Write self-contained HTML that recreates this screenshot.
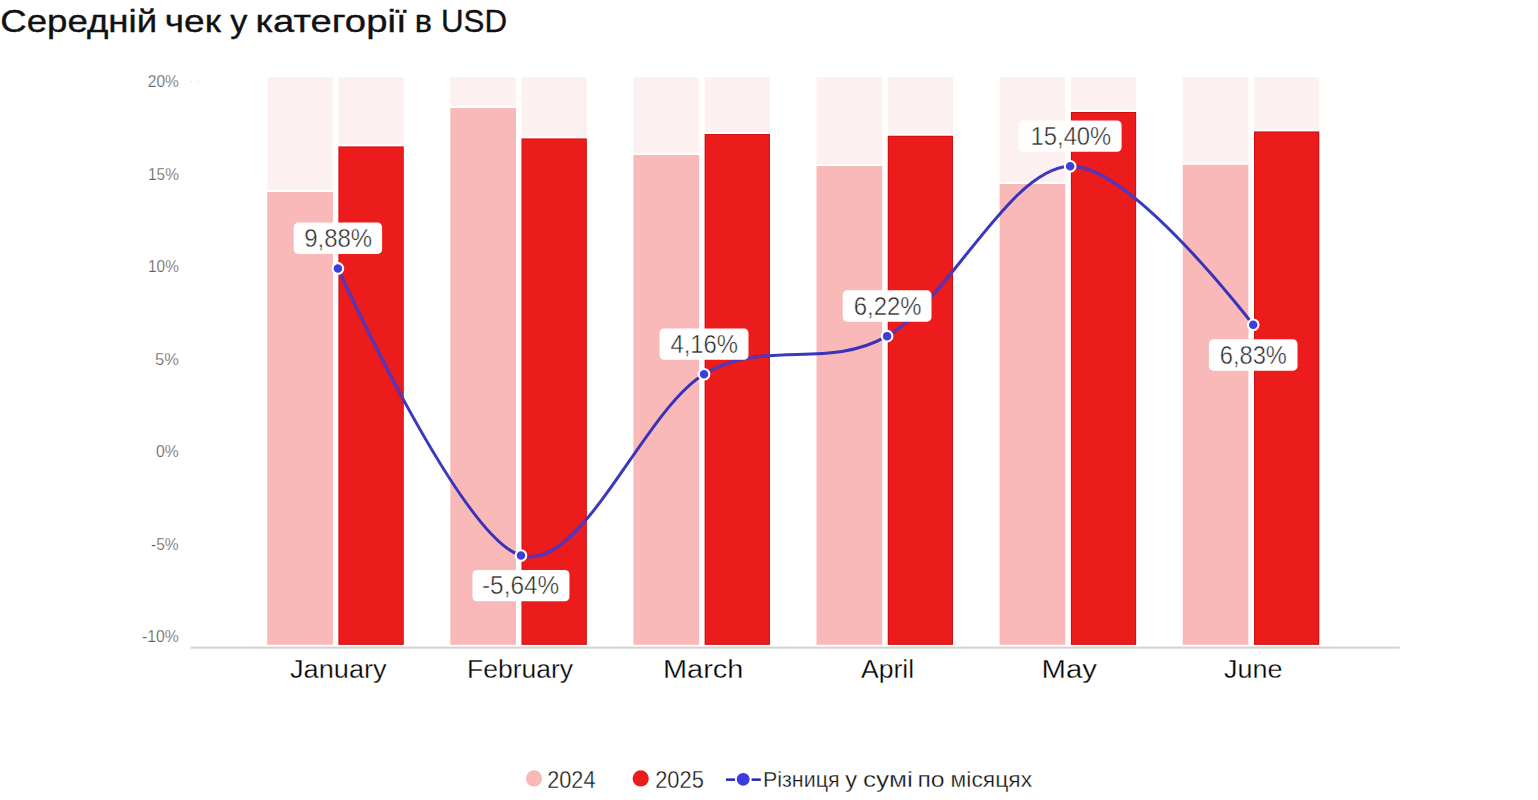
<!DOCTYPE html>
<html lang="uk"><head><meta charset="utf-8"><title>Середній чек у категорії в USD</title>
<style>html,body{margin:0;padding:0;background:#fff;}body{width:1538px;height:800px;overflow:hidden;}svg{display:block;}text{font-family:"Liberation Sans",Arial,sans-serif;}</style></head><body>
<svg width="1538" height="800" viewBox="0 0 1538 800">
<rect width="1538" height="800" fill="#fff"/>
<text x="0.20" y="32.30" font-size="32" fill="#111" textLength="156.99" lengthAdjust="spacingAndGlyphs" stroke="#111" stroke-width="0.35">Середній</text>
<text x="164.80" y="32.30" font-size="32" fill="#111" textLength="56.08" lengthAdjust="spacingAndGlyphs" stroke="#111" stroke-width="0.35">чек</text>
<text x="230.20" y="32.30" font-size="32" fill="#111" textLength="17.11" lengthAdjust="spacingAndGlyphs" stroke="#111" stroke-width="0.35">у</text>
<text x="255.40" y="32.30" font-size="32" fill="#111" textLength="151.16" lengthAdjust="spacingAndGlyphs" stroke="#111" stroke-width="0.35">категорії</text>
<text x="414.80" y="32.30" font-size="32" fill="#111" textLength="17.20" lengthAdjust="spacingAndGlyphs" stroke="#111" stroke-width="0.35">в</text>
<text x="441.00" y="32.30" font-size="32" fill="#111" textLength="66.14" lengthAdjust="spacingAndGlyphs" stroke="#111" stroke-width="0.35">USD</text>
<text x="147.80" y="87.40" font-size="16.6" fill="#5e5e5e" textLength="31.10" lengthAdjust="spacingAndGlyphs" stroke="#fff" stroke-width="0.25">20%</text>
<text x="148.00" y="179.90" font-size="16.6" fill="#5e5e5e" textLength="30.87" lengthAdjust="spacingAndGlyphs" stroke="#fff" stroke-width="0.25">15%</text>
<text x="148.00" y="272.40" font-size="16.6" fill="#5e5e5e" textLength="30.87" lengthAdjust="spacingAndGlyphs" stroke="#fff" stroke-width="0.25">10%</text>
<text x="155.00" y="364.90" font-size="16.6" fill="#5e5e5e" textLength="23.91" lengthAdjust="spacingAndGlyphs" stroke="#fff" stroke-width="0.25">5%</text>
<text x="156.00" y="457.40" font-size="16.6" fill="#5e5e5e" textLength="22.73" lengthAdjust="spacingAndGlyphs" stroke="#fff" stroke-width="0.25">0%</text>
<text x="151.00" y="549.90" font-size="16.6" fill="#5e5e5e" textLength="27.68" lengthAdjust="spacingAndGlyphs" stroke="#fff" stroke-width="0.25">-5%</text>
<text x="142.00" y="642.40" font-size="16.6" fill="#5e5e5e" textLength="36.91" lengthAdjust="spacingAndGlyphs" stroke="#fff" stroke-width="0.25">-10%</text>
<rect x="267.20" y="77.2" width="65.7" height="112.80" fill="#fdf0f0"/>
<rect x="338.50" y="77.2" width="65.2" height="67.30" fill="#fdf0f0"/>
<rect x="267.20" y="192" width="65.7" height="452.80" fill="#f9b9b9"/>
<rect x="338.50" y="146.5" width="65.2" height="498.30" fill="#ed1c1c"/>
<rect x="339.00" y="147.0" width="64.2" height="497.30" fill="none" stroke="#a00" stroke-opacity="0.45" stroke-width="1"/>
<rect x="450.30" y="77.2" width="65.7" height="28.80" fill="#fdf0f0"/>
<rect x="521.60" y="77.2" width="65.2" height="59.30" fill="#fdf0f0"/>
<rect x="450.30" y="108" width="65.7" height="536.80" fill="#f9b9b9"/>
<rect x="521.60" y="138.5" width="65.2" height="506.30" fill="#ed1c1c"/>
<rect x="522.10" y="139.0" width="64.2" height="505.30" fill="none" stroke="#a00" stroke-opacity="0.45" stroke-width="1"/>
<rect x="633.40" y="77.2" width="65.7" height="75.80" fill="#fdf0f0"/>
<rect x="704.70" y="77.2" width="65.2" height="54.80" fill="#fdf0f0"/>
<rect x="633.40" y="155" width="65.7" height="489.80" fill="#f9b9b9"/>
<rect x="704.70" y="134" width="65.2" height="510.80" fill="#ed1c1c"/>
<rect x="705.20" y="134.5" width="64.2" height="509.80" fill="none" stroke="#a00" stroke-opacity="0.45" stroke-width="1"/>
<rect x="816.50" y="77.2" width="65.7" height="86.80" fill="#fdf0f0"/>
<rect x="887.80" y="77.2" width="65.2" height="56.60" fill="#fdf0f0"/>
<rect x="816.50" y="166" width="65.7" height="478.80" fill="#f9b9b9"/>
<rect x="887.80" y="135.8" width="65.2" height="509.00" fill="#ed1c1c"/>
<rect x="888.30" y="136.3" width="64.2" height="508.00" fill="none" stroke="#a00" stroke-opacity="0.45" stroke-width="1"/>
<rect x="999.60" y="77.2" width="65.7" height="104.80" fill="#fdf0f0"/>
<rect x="1070.90" y="77.2" width="65.2" height="32.80" fill="#fdf0f0"/>
<rect x="999.60" y="184" width="65.7" height="460.80" fill="#f9b9b9"/>
<rect x="1070.90" y="112" width="65.2" height="532.80" fill="#ed1c1c"/>
<rect x="1071.40" y="112.5" width="64.2" height="531.80" fill="none" stroke="#a00" stroke-opacity="0.45" stroke-width="1"/>
<rect x="1182.70" y="77.2" width="65.7" height="85.60" fill="#fdf0f0"/>
<rect x="1254.00" y="77.2" width="65.2" height="52.30" fill="#fdf0f0"/>
<rect x="1182.70" y="164.8" width="65.7" height="480.00" fill="#f9b9b9"/>
<rect x="1254.00" y="131.5" width="65.2" height="513.30" fill="#ed1c1c"/>
<rect x="1254.50" y="132.0" width="64.2" height="512.30" fill="none" stroke="#a00" stroke-opacity="0.45" stroke-width="1"/>
<rect x="190.6" y="646.6" width="1209.2" height="2.1" fill="#d3d3d3"/>
<text x="290.00" y="677.80" font-size="25.4" fill="#000" textLength="96.63" lengthAdjust="spacingAndGlyphs" stroke="#fff" stroke-width="0.3">January</text>
<text x="467.00" y="677.80" font-size="25.4" fill="#000" textLength="105.97" lengthAdjust="spacingAndGlyphs" stroke="#fff" stroke-width="0.3">February</text>
<text x="663.00" y="677.80" font-size="25.4" fill="#000" textLength="80.38" lengthAdjust="spacingAndGlyphs" stroke="#fff" stroke-width="0.3">March</text>
<text x="861.00" y="677.80" font-size="25.4" fill="#000" textLength="53.19" lengthAdjust="spacingAndGlyphs" stroke="#fff" stroke-width="0.3">April</text>
<text x="1041.60" y="677.80" font-size="25.4" fill="#000" textLength="55.43" lengthAdjust="spacingAndGlyphs" stroke="#fff" stroke-width="0.3">May</text>
<text x="1224.00" y="677.80" font-size="25.4" fill="#000" textLength="58.42" lengthAdjust="spacingAndGlyphs" stroke="#fff" stroke-width="0.3">June</text>
<path d="M337.90,268.42 C337.90,268.42 459.94,537.90 520.96,555.54 C581.98,573.18 643.00,410.81 704.02,374.24 C765.04,337.67 826.06,370.79 887.08,336.13 C948.10,301.47 1009.12,168.18 1070.14,166.30 C1131.16,164.42 1253.20,324.84 1253.20,324.84" fill="none" stroke="#1f1fb8" stroke-opacity="0.88" stroke-width="3" stroke-linecap="round"/>
<clipPath id="rc"><rect x="338.50" y="146.5" width="65.2" height="498.30"/><rect x="521.60" y="138.5" width="65.2" height="506.30"/><rect x="704.70" y="134" width="65.2" height="510.80"/><rect x="887.80" y="135.8" width="65.2" height="509.00"/><rect x="1070.90" y="112" width="65.2" height="532.80"/><rect x="1254.00" y="131.5" width="65.2" height="513.30"/></clipPath>
<path d="M337.90,268.42 C337.90,268.42 459.94,537.90 520.96,555.54 C581.98,573.18 643.00,410.81 704.02,374.24 C765.04,337.67 826.06,370.79 887.08,336.13 C948.10,301.47 1009.12,168.18 1070.14,166.30 C1131.16,164.42 1253.20,324.84 1253.20,324.84" fill="none" stroke="#5a36b4" stroke-width="3.2" clip-path="url(#rc)"/>
<circle cx="337.90" cy="268.42" r="5.3" fill="#3b40dd" stroke="#fff" stroke-width="2.1"/>
<circle cx="520.96" cy="555.54" r="5.3" fill="#3b40dd" stroke="#fff" stroke-width="2.1"/>
<circle cx="704.02" cy="374.24" r="5.3" fill="#3b40dd" stroke="#fff" stroke-width="2.1"/>
<circle cx="887.08" cy="336.13" r="5.3" fill="#3b40dd" stroke="#fff" stroke-width="2.1"/>
<circle cx="1070.14" cy="166.30" r="5.3" fill="#3b40dd" stroke="#fff" stroke-width="2.1"/>
<circle cx="1253.20" cy="324.84" r="5.3" fill="#3b40dd" stroke="#fff" stroke-width="2.1"/>
<rect x="293.70" y="222.62" width="88.4" height="31.3" rx="4.5" fill="#fff"/>
<rect x="472.46" y="570.04" width="97" height="31.3" rx="4.5" fill="#fff"/>
<rect x="659.57" y="328.44" width="88.9" height="31.3" rx="4.5" fill="#fff"/>
<rect x="842.68" y="290.33" width="88.8" height="31.3" rx="4.5" fill="#fff"/>
<rect x="1018.69" y="120.50" width="102.9" height="31.3" rx="4.5" fill="#fff"/>
<rect x="1208.90" y="339.34" width="88.6" height="31.3" rx="4.5" fill="#fff"/>
<text x="304.20" y="246.97" font-size="25.2" fill="#2a2a2a" textLength="68.00" lengthAdjust="spacingAndGlyphs" stroke="#fff" stroke-width="0.45">9,88%</text>
<text x="482.00" y="594.39" font-size="25.2" fill="#2a2a2a" textLength="77.31" lengthAdjust="spacingAndGlyphs" stroke="#fff" stroke-width="0.45">-5,64%</text>
<text x="670.40" y="352.79" font-size="25.2" fill="#2a2a2a" textLength="67.68" lengthAdjust="spacingAndGlyphs" stroke="#fff" stroke-width="0.45">4,16%</text>
<text x="853.80" y="314.68" font-size="25.2" fill="#2a2a2a" textLength="67.81" lengthAdjust="spacingAndGlyphs" stroke="#fff" stroke-width="0.45">6,22%</text>
<text x="1030.60" y="144.85" font-size="25.2" fill="#2a2a2a" textLength="80.65" lengthAdjust="spacingAndGlyphs" stroke="#fff" stroke-width="0.45">15,40%</text>
<text x="1219.80" y="363.69" font-size="25.2" fill="#2a2a2a" textLength="67.12" lengthAdjust="spacingAndGlyphs" stroke="#fff" stroke-width="0.45">6,83%</text>
<circle cx="534" cy="778.4" r="8.1" fill="#f9b9b9"/>
<circle cx="640.7" cy="778.4" r="8.1" fill="#ed1c1c"/>
<rect x="726" y="778.4" width="9" height="2.5" fill="#2626a6"/>
<rect x="751.6" y="778.4" width="9.2" height="2.5" fill="#2626a6"/>
<circle cx="743.2" cy="779.3" r="6.4" fill="#3a3ae1"/>
<circle cx="191.2" cy="81.6" r="0.7" fill="#ccc"/><circle cx="198" cy="81.6" r="0.7" fill="#ccc"/>
<text x="547.20" y="787.60" font-size="23.4" fill="#111" textLength="48.33" lengthAdjust="spacingAndGlyphs" stroke="#fff" stroke-width="0.35">2024</text>
<text x="655.20" y="787.60" font-size="23.4" fill="#111" textLength="48.75" lengthAdjust="spacingAndGlyphs" stroke="#fff" stroke-width="0.35">2025</text>
<text x="763.00" y="787.40" font-size="22.2" fill="#111" textLength="76.49" lengthAdjust="spacingAndGlyphs" stroke="#fff" stroke-width="0.3">Різниця</text>
<text x="845.20" y="787.40" font-size="22.2" fill="#111" textLength="11.90" lengthAdjust="spacingAndGlyphs" stroke="#fff" stroke-width="0.3">у</text>
<text x="863.00" y="787.40" font-size="22.2" fill="#111" textLength="49.81" lengthAdjust="spacingAndGlyphs" stroke="#fff" stroke-width="0.3">сумі</text>
<text x="917.40" y="787.40" font-size="22.2" fill="#111" textLength="27.18" lengthAdjust="spacingAndGlyphs" stroke="#fff" stroke-width="0.3">по</text>
<text x="950.60" y="787.40" font-size="22.2" fill="#111" textLength="81.61" lengthAdjust="spacingAndGlyphs" stroke="#fff" stroke-width="0.3">місяцях</text>
</svg></body></html>
